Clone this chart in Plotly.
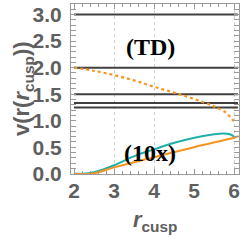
import plotly.graph_objects as go

# horizontal reference levels
levels = [3.0, 2.0, 1.5, 4/3, 1.25]
level_x = [2.0, 6.1]

# dashed orange curve (TD)
td_x = [2.0, 2.5, 3.0, 3.5, 4.0, 4.5, 5.0, 5.5, 5.8, 5.95, 6.03]
td_y = [2.0, 1.94, 1.86, 1.76, 1.64, 1.53, 1.41, 1.27, 1.15, 1.03, 0.95]

# teal curve (10x)
teal_x = [2.0, 2.25, 2.5, 2.73, 3.0, 3.15, 3.57, 4.0, 4.4, 4.8, 5.23, 5.5, 5.73, 5.9, 5.98, 6.03]
teal_y = [0.0, 0.0, 0.03, 0.08, 0.16, 0.21, 0.35, 0.46, 0.56, 0.64, 0.71, 0.745, 0.76, 0.745, 0.71, 0.67]

# solid orange line
or_x = [2.0, 2.45, 3.0, 4.0, 5.0, 6.0, 6.12]
or_y = [0.0, 0.0, 0.12, 0.31, 0.50, 0.68, 0.71]

grid_x = [3, 4, 6]
x_ticks = [2, 3, 4, 5, 6]
y_ticks = [0.0, 0.5, 1.0, 1.5, 2.0, 2.5, 3.0]
y_ticktext = ["0.0", "0.5", "1.0", "1.5", "2.0", "2.5", "3.0"]

labels = [("(TD)", 3.92, 2.39), ("(10x)", 3.9, 0.385)]
x_title = "<i>r</i><sub>cusp</sub>"
y_title = "v(r(<i>r</i><sub>cusp</sub>))"

ORANGE = "#F7941D"
TEAL = "#1FB0A8"
DARK = "#404040"
GRAY = "#5f5f5f"
FRAME = "#9a9a9a"

fig = go.Figure()

for lv in levels:
    fig.add_trace(go.Scatter(x=level_x, y=[lv, lv], mode="lines",
                             line=dict(color=DARK, width=2), showlegend=False, hoverinfo="skip"))

fig.add_trace(go.Scatter(x=td_x, y=td_y, mode="lines", line=dict(color=ORANGE, width=2.2, dash="3px,3px", shape="spline"),
                         showlegend=False))
fig.add_trace(go.Scatter(x=teal_x, y=teal_y, mode="lines", line=dict(color=TEAL, width=2, shape="spline"),
                         showlegend=False))
fig.add_trace(go.Scatter(x=or_x, y=or_y, mode="lines", line=dict(color=ORANGE, width=2, shape="spline"),
                         showlegend=False))

# invisible trace to activate grid axis
fig.add_trace(go.Scatter(x=[2, 6], y=[0, 0], xaxis="x2", mode="lines", line=dict(width=0),
                         showlegend=False, hoverinfo="skip"))

for txt, lx, ly in labels:
    fig.add_annotation(x=lx, y=ly, xref="x", yref="y", text="<b>" + txt + "</b>", showarrow=False,
                       font=dict(family="Liberation Serif", size=24, color="black"))

title_font = dict(family="Liberation Sans", size=22, color=GRAY, weight="bold")
fig.add_annotation(x=0.5, y=0, xref="paper", yref="paper", text=x_title, showarrow=False,
                   yanchor="middle", xanchor="center", yshift=-47, font=title_font)
fig.add_annotation(x=0, y=0.5, xref="paper", yref="paper", text=y_title, showarrow=False, textangle=-90,
                   yanchor="middle", xanchor="center", xshift=-48, font=title_font)

tickfont = dict(family="Liberation Sans", size=21, color=GRAY, weight="bold")

fig.update_layout(
    width=245, height=240,
    margin=dict(l=71, r=6, t=4, b=66, autoexpand=False),
    plot_bgcolor="white", paper_bgcolor="white",
    xaxis=dict(range=[1.925, 6.125], tickvals=x_ticks, showgrid=False, zeroline=False, automargin=False,
               showline=True, linecolor=FRAME, linewidth=1, mirror="allticks",
               ticks="inside", ticklen=5, tickcolor=FRAME,
               minor=dict(dtick=0.2, tick0=2, ticks="inside", ticklen=3, tickcolor=FRAME, showgrid=False),
               tickfont=tickfont, ticklabelstandoff=-2, ticklabeloverflow="allow"),
    xaxis2=dict(range=[1.925, 6.125], overlaying="x", tickvals=grid_x, showticklabels=False, automargin=False,
                showgrid=True, gridcolor="#d0d0d0", griddash="dot", gridwidth=1, ticks="", zeroline=False, showline=False),
    yaxis=dict(range=[-0.005, 3.2], tickvals=y_ticks, ticktext=y_ticktext, showgrid=False, zeroline=False, automargin=False,
               showline=True, linecolor=FRAME, linewidth=1, mirror="allticks",
               ticks="inside", ticklen=5, tickcolor=FRAME,
               minor=dict(dtick=0.1, tick0=0, ticks="inside", ticklen=3, tickcolor=FRAME, showgrid=False),
               tickfont=tickfont, ticklabelstandoff=4, ticklabeloverflow="allow"),
)

fig.write_html("out.html", config={"displayModeBar": False},
               post_script="document.body.style.margin='0';document.body.style.padding='0';")
